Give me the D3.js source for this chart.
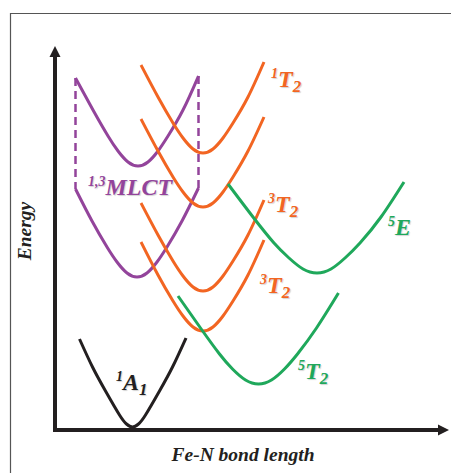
<!DOCTYPE html>
<html lang="en">
  <head>
    <meta charset="utf-8">
    <title>Fe-N potential energy curves</title>
    <style>
    body { margin: 0; background: #fff; }

    .frame { stroke: #555; stroke-width: 1.2; fill: none; }

    .axis-line { stroke: #231f20; stroke-width: 4; fill: none; }
    .arrow { fill: #231f20; }

    .axis-title {
        font-family: "Liberation Serif", "DejaVu Serif", serif;
        font-weight: bold;
        font-style: italic;
        font-size: 19.5px;
        fill: #231f20;
        text-anchor: middle;
    }

    .curve { fill: none; stroke-width: 3; stroke-linecap: butt; }
    .dashed { fill: none; stroke-width: 2.5; stroke-dasharray: 8,5; }

    .label {
        font-family: "Liberation Serif", "DejaVu Serif", serif;
        font-weight: bold;
        font-style: italic;
        text-shadow: 1px 1px 1px rgba(0,0,0,0.18);
    }
    </style>
  </head>
  <body>
    <div id="chart"></div>
  <script src="https://cdn.jsdelivr.net/npm/d3@7"></script>
  <script>

    // bond length / energy in arbitrary units
    var A1_x   = [12.25, 18.75, 25.25, 32.25, 35.75, 38.75, 41.75, 45.25, 52.25, 58.75, 65.5];
    var A1_y   = [45.5, 31.5, 19.5, 7.5, 3, 1.5, 3, 7.5, 19.5, 31.5, 46];

    var mlctHi_x = [10.25, 19, 26.5, 31.5, 36.5, 41.5, 46.5, 51.5, 56.5, 64, 71.75];
    var mlctHi_y = [176, 160, 147, 139.5, 134, 132, 134, 139.5, 147, 160, 177];
    var mlctLo_x = [10.25, 18.5, 26, 31, 36, 41, 46, 51, 56, 63.5, 71.75];
    var mlctLo_y = [120.5, 104.5, 91.5, 84, 78.5, 76.5, 78.5, 84, 91.5, 104.5, 121];

    var T2_x   = [43, 51.5, 59, 64, 69, 74, 79, 84, 89, 96.5, 104.5];
    var T2a_y  = [182.5, 166.5, 153.5, 146, 140.5, 138.5, 140.5, 146, 153.5, 166.5, 184];   // 1T2
    var T2b_y  = [155.5, 139.5, 126.5, 119, 113.5, 111.5, 113.5, 119, 126.5, 139.5, 156.5];
    var T2c_y  = [113.5, 97.5, 84.5, 77, 71.5, 69.5, 71.5, 77, 84.5, 97.5, 115];            // 3T2
    var T2d_y  = [94, 77.5, 64.5, 57, 51.5, 49.5, 51.5, 57, 64.5, 77.5, 95];                 // 3T2

    var E5_x   = [86.5, 99, 109.5, 117, 124, 131, 138, 145, 152.5, 163, 174.5];
    var E5_y   = [123, 106.5, 93.5, 86, 80.5, 78.5, 80.5, 86, 93.5, 106.5, 124];

    var T25_x  = [61.5, 72.75, 82.25, 88.75, 95.25, 101.75, 108.25, 114.75, 121.25, 130.75, 141.75];
    var T25_y  = [67, 51, 38, 30.5, 25, 23, 25, 30.5, 38, 51, 68.5];

    var curveNames  = ["1A1", "MLCT-upper", "MLCT-lower", "1T2", "T2-b", "3T2-a", "3T2-b", "5E", "5T2"];
    var curveColors = ["#231f20", "#93449b", "#93449b", "#f26522", "#f26522", "#f26522", "#f26522", "#1fa85b", "#1fa85b"];
    var curveX = [A1_x, mlctHi_x, mlctLo_x, T2_x, T2_x, T2_x, T2_x, E5_x, T25_x];
    var curveY = [A1_y, mlctHi_y, mlctLo_y, T2a_y, T2b_y, T2c_y, T2d_y, E5_y, T25_y];

    // state labels: [superscript, main, subscript], anchor in data units
    var labelSup   = ["1", "3", "3", "5", "5", "1", "1,3"];
    var labelMain  = ["T", "T", "T", "E", "T", "A", "MLCT"];
    var labelSub   = ["2", "2", "2", "", "2", "1", ""];
    var labelX     = [108, 106.5, 102.5, 166.5, 121.5, 30.5, 16.5];
    var labelY     = [171.5, 109, 68.5, 97.5, 25.5, 20, 117.5];
    var labelColor = ["#f26522", "#f26522", "#f26522", "#1fa85b", "#1fa85b", "#231f20", "#93449b"];

    var width = 451,
        height = 473,
        xMax = 197,
        yMax = 192;

    var svg = d3.select("#chart")
                .append("svg")
                .attr("width", width)
                .attr("height", height);

    var x = d3.scaleLinear().domain([0, xMax]).range([55, 449]);
    var y = d3.scaleLinear().domain([0, yMax]).range([430, 46]);

    // outer frame (left + top edge of the original panel)
    svg.append("path")
       .attr("class", "frame")
       .attr("d", "M10.5,473V13.5H451");

    // axes with arrow heads
    svg.append("line")
       .attr("class", "axis-line")
       .attr("x1", x(0)).attr("y1", y(0) + 2)
       .attr("x2", x(0)).attr("y2", y(yMax) + 10);

    svg.append("line")
       .attr("class", "axis-line")
       .attr("x1", x(0) - 2).attr("y1", y(0))
       .attr("x2", x(xMax) - 10).attr("y2", y(0));

    svg.append("path")
       .attr("class", "arrow")
       .attr("d", "M" + x(0) + "," + y(yMax) + "l5.5,11h-11z");

    svg.append("path")
       .attr("class", "arrow")
       .attr("d", "M" + x(xMax) + "," + y(0) + "l-11,-5.5v11z");

    svg.append("text")
       .attr("class", "axis-title")
       .attr("transform", "translate(31,231) rotate(-90)")
       .text("Energy");

    svg.append("text")
       .attr("class", "axis-title")
       .attr("x", 243)
       .attr("y", 461)
       .text("Fe-N bond length");

    var line = d3.line()
                 .x(function(d) { return x(d[0]); })
                 .y(function(d) { return y(d[1]); })
                 .curve(d3.curveNatural);

    var curves = curveNames.map(function(name, i) {
        return { name: name, color: curveColors[i], pts: d3.zip(curveX[i], curveY[i]) };
    });

    // dashed verticals joining the two MLCT curves
    var up = curves[1].pts, lo = curves[2].pts;
    [[up[0], lo[0]], [up[up.length - 1], lo[lo.length - 1]]].forEach(function(p) {
        svg.append("line")
           .attr("class", "dashed")
           .attr("stroke", curveColors[1])
           .attr("x1", x(p[0][0])).attr("y1", y(p[0][1]))
           .attr("x2", x(p[1][0])).attr("y2", y(p[1][1]));
    });

    svg.selectAll(".curve")
       .data(curves)
       .enter()
       .append("path")
       .attr("class", "curve")
       .attr("stroke", function(d) { return d.color; })
       .attr("d", function(d) { return line(d.pts); });

    labelMain.forEach(function(m, i) {
        var t = svg.append("text")
                   .attr("class", "label")
                   .attr("x", x(labelX[i]))
                   .attr("y", y(labelY[i]))
                   .attr("fill", labelColor[i]);
        t.append("tspan").attr("font-size", 14).attr("dy", -9).text(labelSup[i]);
        t.append("tspan").attr("font-size", 24).attr("dy", 9).text(m);
        if (labelSub[i]) {
            t.append("tspan").attr("font-size", 17).attr("dy", 5).text(labelSub[i]);
        }
    });

  </script>
  </body>
</html>
